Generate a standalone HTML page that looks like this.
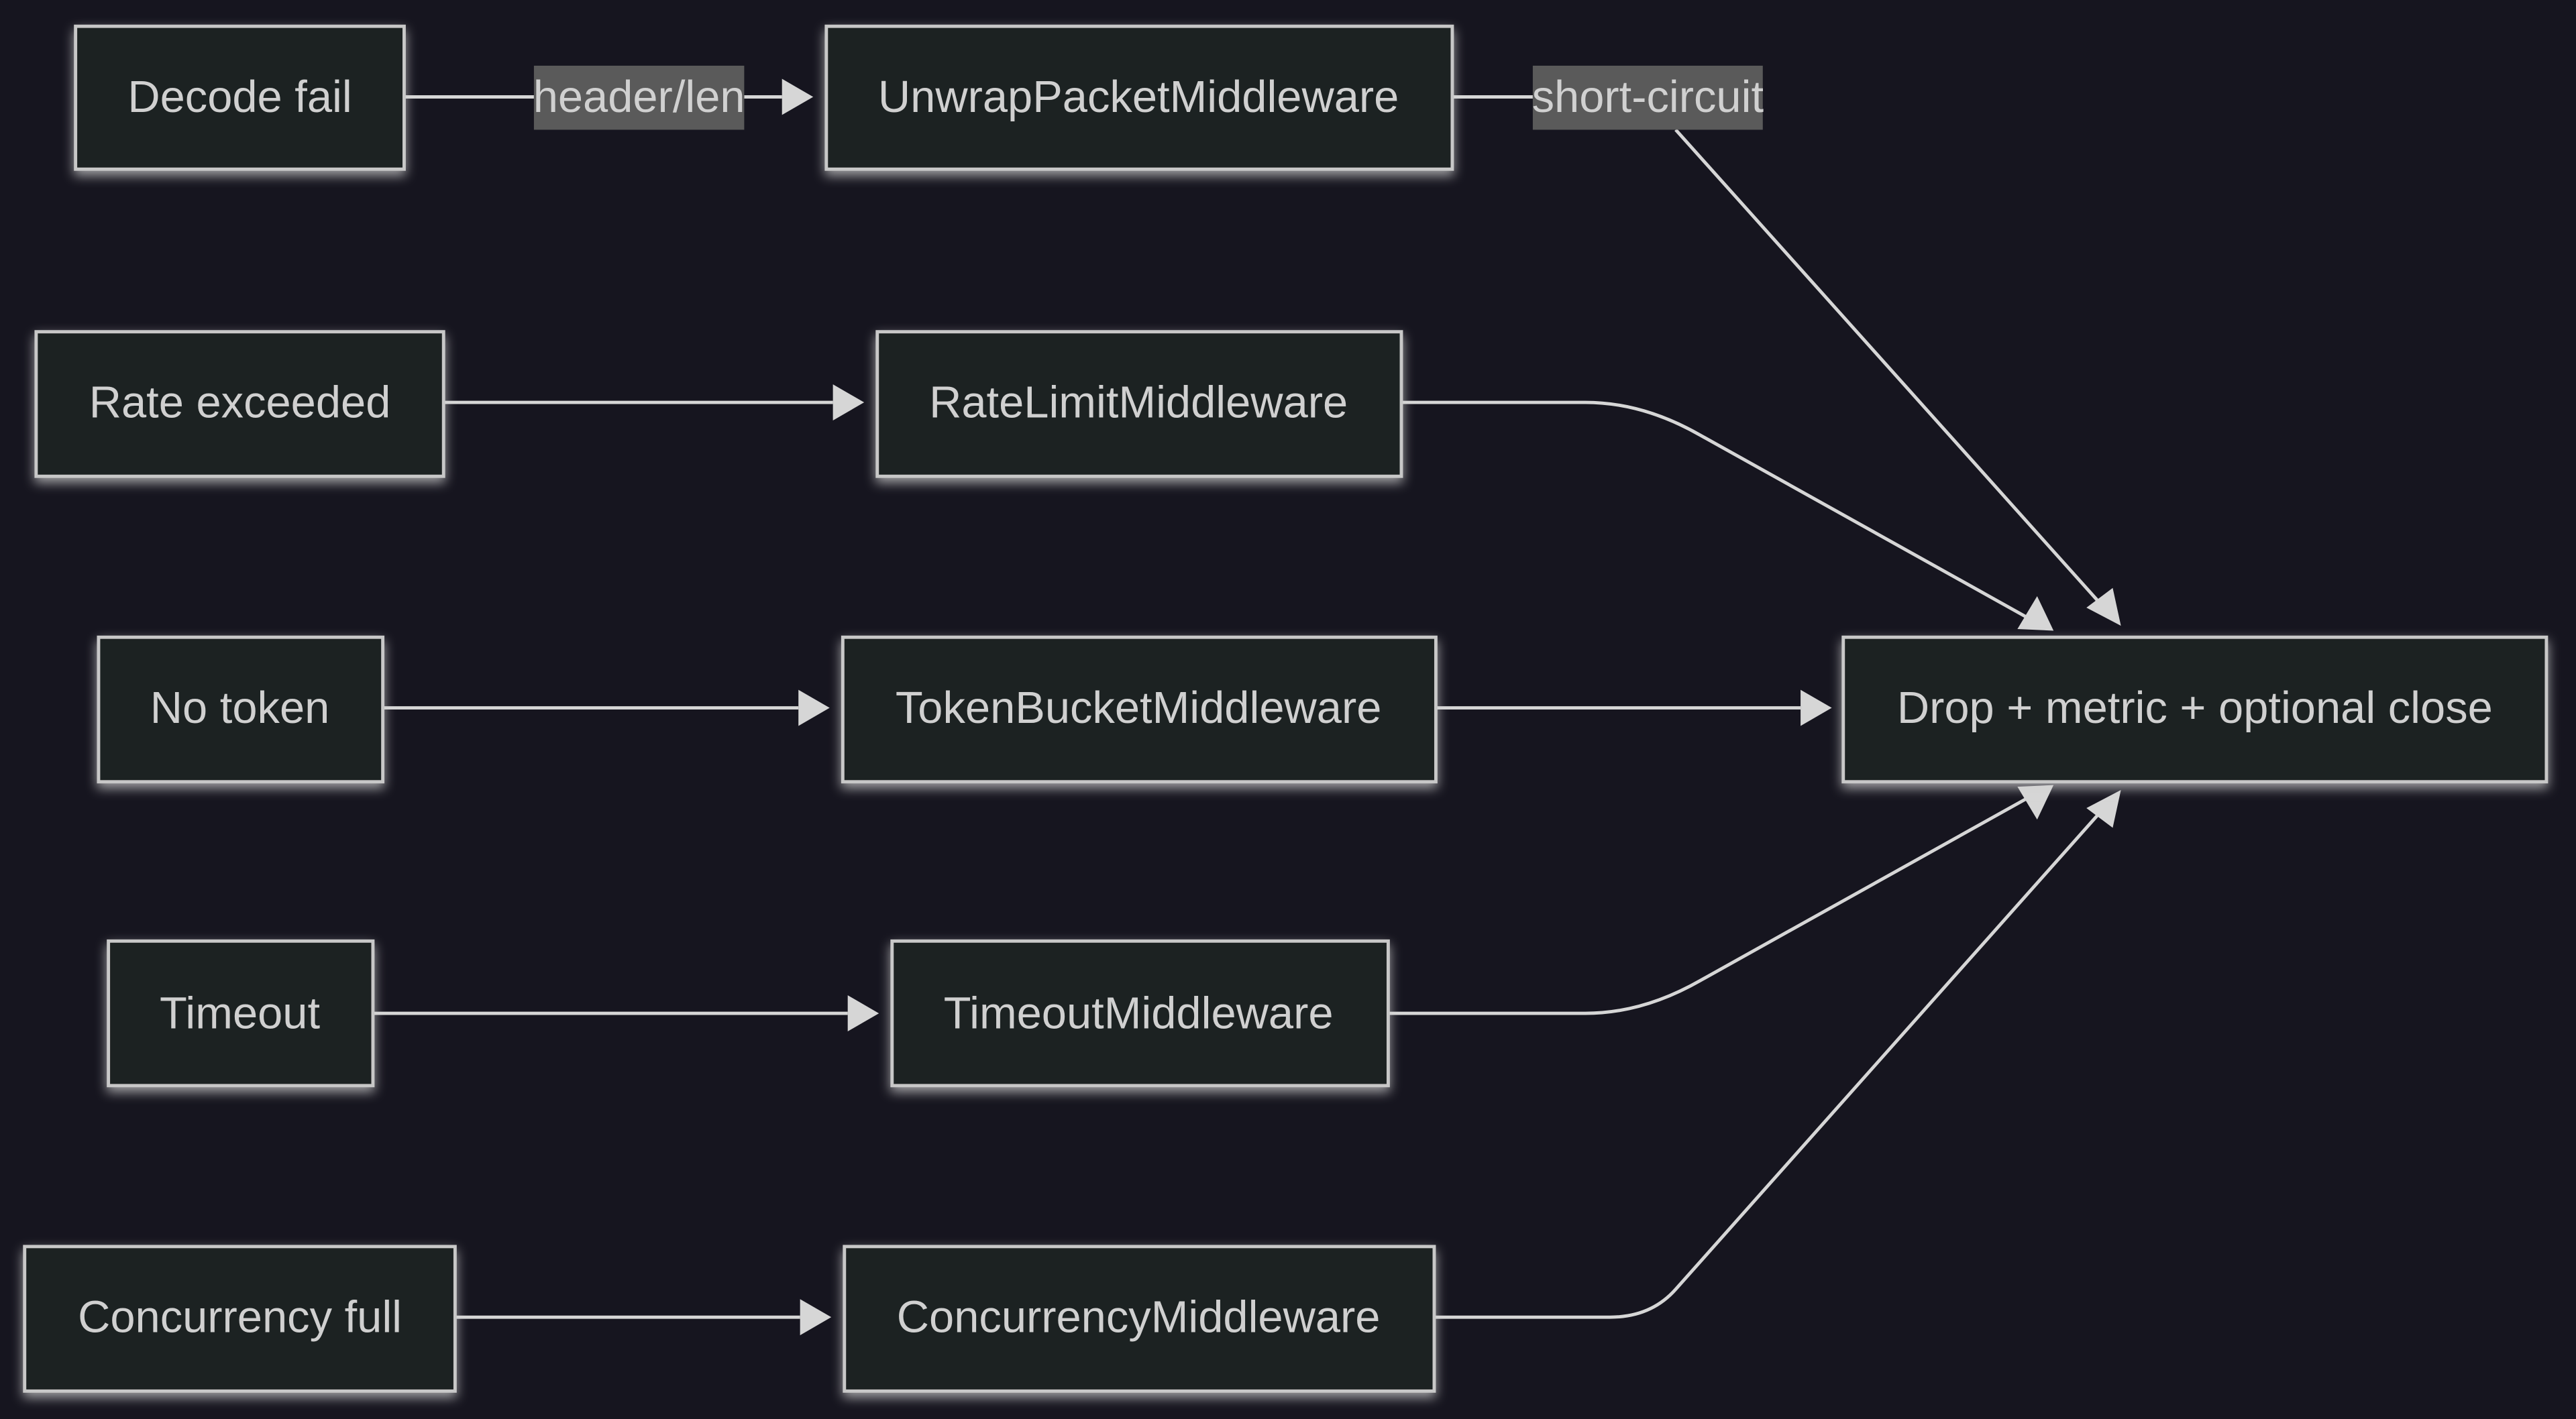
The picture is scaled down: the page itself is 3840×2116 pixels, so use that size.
<!DOCTYPE html>
<html><head><meta charset="utf-8"><style>
html,body{margin:0;padding:0;background:#16151f;}
svg{display:block;}
text{font-family:"Liberation Sans",sans-serif;fill:#d0d0d0;font-size:27.3px;text-anchor:middle;dominant-baseline:central;}
.n{fill:#1f2020;stroke:#c8c8c8;stroke-width:2;filter:url(#g);}
.e{fill:none;stroke:#d6d6d6;stroke-width:2;}
.lb{fill:#5a5a5a;}
</style></head><body>
<svg width="3840" height="2116" viewBox="0 0 1568 864" preserveAspectRatio="none">
<defs>
<filter id="g" x="-20%" y="-30%" width="140%" height="160%"><feDropShadow dx="0" dy="3" stdDeviation="3.5" flood-color="#d0d0d0" flood-opacity="0.75"/></filter>
</defs>
<rect width="1568" height="864" fill="#16151f"/>
<path class="e" d="M246,59H325"/>
<path class="e" d="M453,59H476"/>
<path d="M476,48L495,59L476,70z" fill="#d6d6d6"/>
<path class="e" d="M884,59H933"/>
<path class="e" d="M1020,79L1278,367"/>
<path d="M1270,370L1291,381L1286,358z" fill="#d6d6d6"/>
<path class="e" d="M270,245H507"/>
<path d="M507,234L526,245L507,256z" fill="#d6d6d6"/>
<path class="e" d="M853,245H965Q1000,245 1035,265L1234,376"/>
<path d="M1228,383L1250,384L1240,363z" fill="#d6d6d6"/>
<path class="e" d="M233,431H486"/>
<path d="M486,420L505,431L486,442z" fill="#d6d6d6"/>
<path class="e" d="M874,431H1096"/>
<path d="M1096,420L1115,431L1096,442z" fill="#d6d6d6"/>
<path class="e" d="M227,617H516"/>
<path d="M516,606L535,617L516,628z" fill="#d6d6d6"/>
<path class="e" d="M845,617H965Q1000,617 1035,597L1234,486"/>
<path d="M1228,479L1250,478L1240,499z" fill="#d6d6d6"/>
<path class="e" d="M277,802H487"/>
<path d="M487,791L506,802L487,813z" fill="#d6d6d6"/>
<path class="e" d="M873,802H980Q1005,802 1020,785L1278,495"/>
<path d="M1270,492L1291,481L1286,504z" fill="#d6d6d6"/>
<rect class="lb" x="325" y="40" width="128" height="39"/>
<text x="389" y="59">header/len</text>
<rect class="lb" x="933" y="40" width="140" height="39"/>
<text x="1003" y="59">short-circuit</text>
<rect class="n" x="46" y="16" width="200" height="87"/><text x="146" y="59">Decode fail</text>
<rect class="n" x="503" y="16" width="381" height="87"/><text x="693" y="59">UnwrapPacketMiddleware</text>
<rect class="n" x="22" y="202" width="248" height="88"/><text x="146" y="245">Rate exceeded</text>
<rect class="n" x="534" y="202" width="319" height="88"/><text x="693" y="245">RateLimitMiddleware</text>
<rect class="n" x="60" y="388" width="173" height="88"/><text x="146" y="431">No token</text>
<rect class="n" x="513" y="388" width="361" height="88"/><text x="693" y="431">TokenBucketMiddleware</text>
<rect class="n" x="66" y="573" width="161" height="88"/><text x="146" y="617">Timeout</text>
<rect class="n" x="543" y="573" width="302" height="88"/><text x="693" y="617">TimeoutMiddleware</text>
<rect class="n" x="15" y="759" width="262" height="88"/><text x="146" y="802">Concurrency full</text>
<rect class="n" x="514" y="759" width="359" height="88"/><text x="693" y="802">ConcurrencyMiddleware</text>
<rect class="n" x="1122" y="388" width="428" height="88"/><text x="1336" y="431">Drop + metric + optional close</text>
</svg>
</body></html>
